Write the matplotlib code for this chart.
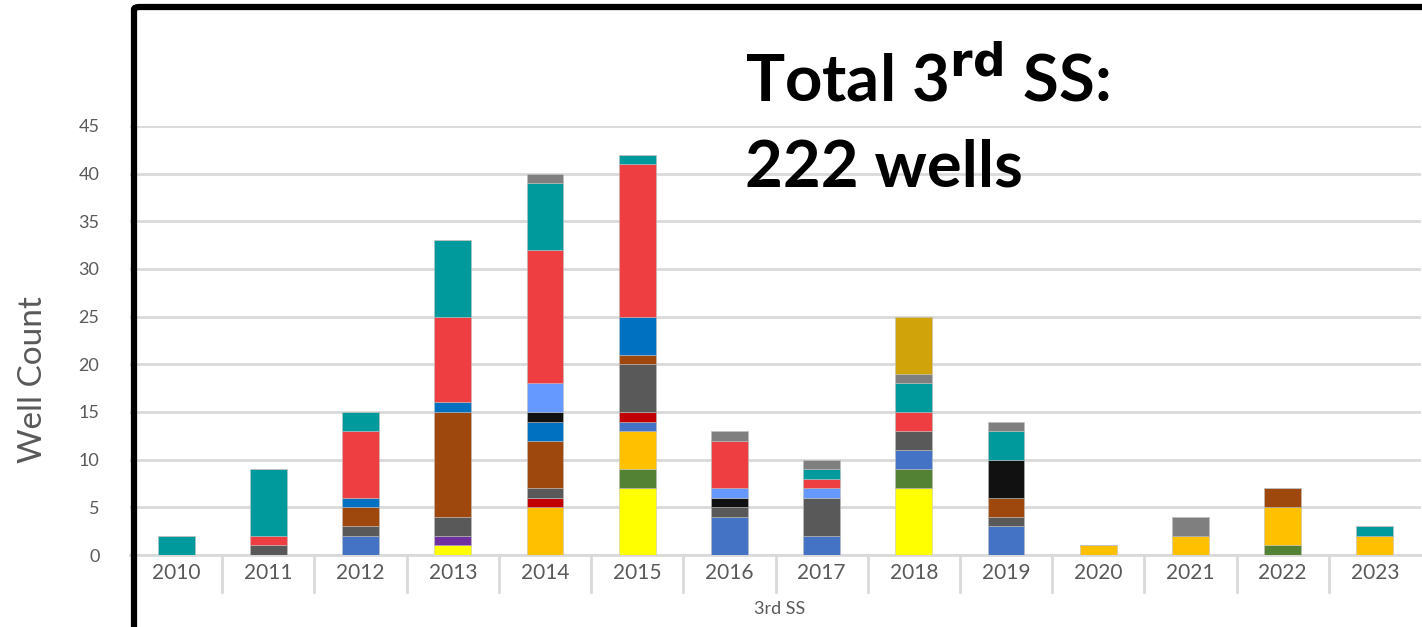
import matplotlib
matplotlib.use("Agg")
import matplotlib.pyplot as plt
from matplotlib.patches import FancyBboxPatch
import numpy as np

plt.rcParams['font.family'] = ['Lato', 'DejaVu Sans']

years = ['2010', '2011', '2012', '2013', '2014', '2015', '2016',
         '2017', '2018', '2019', '2020', '2021', '2022', '2023']

# well counts per group, stacked bottom to top in this order
yellow     = [0, 0, 0, 1, 0, 7, 0, 0, 7, 0, 0, 0, 0, 0]
green      = [0, 0, 0, 0, 0, 2, 0, 0, 2, 0, 0, 0, 1, 0]
orange     = [0, 0, 0, 0, 5, 4, 0, 0, 0, 0, 1, 2, 4, 2]
blue       = [0, 0, 2, 0, 0, 1, 4, 2, 2, 3, 0, 0, 0, 0]
purple     = [0, 0, 0, 1, 0, 0, 0, 0, 0, 0, 0, 0, 0, 0]
dark_red   = [0, 0, 0, 0, 1, 1, 0, 0, 0, 0, 0, 0, 0, 0]
dark_gray  = [0, 1, 1, 2, 1, 5, 1, 4, 2, 1, 0, 0, 0, 0]
brown      = [0, 0, 2, 11, 5, 1, 0, 0, 0, 2, 0, 0, 2, 0]
mid_blue   = [0, 0, 1, 1, 2, 4, 0, 0, 0, 0, 0, 0, 0, 0]
black      = [0, 0, 0, 0, 1, 0, 1, 0, 0, 4, 0, 0, 0, 0]
light_blue = [0, 0, 0, 0, 3, 0, 1, 1, 0, 0, 0, 0, 0, 0]
red        = [0, 1, 7, 9, 14, 16, 5, 1, 2, 0, 0, 0, 0, 0]
teal       = [2, 7, 2, 8, 7, 1, 0, 1, 3, 3, 0, 0, 0, 1]
gray       = [0, 0, 0, 0, 1, 0, 1, 1, 1, 1, 0, 2, 0, 0]
gold       = [0, 0, 0, 0, 0, 0, 0, 0, 6, 0, 0, 0, 0, 0]

series = [
    (yellow, '#FFFF00'), (green, '#548235'), (orange, '#FFC000'),
    (blue, '#4472C4'), (purple, '#7030A0'), (dark_red, '#C00000'),
    (dark_gray, '#595959'), (brown, '#9E480E'), (mid_blue, '#0070C0'),
    (black, '#111111'), (light_blue, '#6699FF'), (red, '#EF3E42'),
    (teal, '#009A9C'), (gray, '#7F7F7F'), (gold, '#D1A30B'),
]

W, H = 1422, 627
fig = plt.figure(figsize=(W / 100, H / 100), dpi=100)
ax = fig.add_axes([130 / W, (H - 555) / H, (1421 - 130) / W, (555 - 126) / H])

x = np.arange(len(years))
bottom = np.zeros(len(years))
for vals, col in series:
    v = np.array(vals, dtype=float)
    ax.bar(x, v, bottom=bottom, width=0.4, color=col,
           edgecolor=(0.75, 0.75, 0.75, 0.6), linewidth=0.6, zorder=3)
    bottom += v

ax.set_xlim(-0.5, len(years) - 0.5)
ax.set_ylim(0, 45)
ax.set_yticks(range(0, 50, 5))
ax.yaxis.grid(True, color='#D9D9D9', linewidth=2, zorder=0)
ax.set_axisbelow(True)
for s in ['top', 'right', 'left']:
    ax.spines[s].set_visible(False)
ax.spines['bottom'].set_color('#D9D9D9')
ax.spines['bottom'].set_linewidth(2)
ax.tick_params(axis='y', length=0, pad=22, labelsize=13, labelcolor='#595959')
ax.tick_params(axis='x', length=0, pad=6, labelsize=15, labelcolor='#595959')
ax.set_xticks(x)
ax.set_xticklabels(years)

# category separators below the axis
for b in np.arange(0.5, len(years) - 1, 1.0):
    ax.plot([b, b], [0, -3.9], color='#D9D9D9', linewidth=2,
            clip_on=False, zorder=1)

ax.set_xlabel('3rd SS', fontsize=13, color='#595959')
ax.xaxis.set_label_coords((780 - 130) / (1421 - 130), -(601 - 555) / (555 - 126))
ax.set_ylabel('Well Count', fontsize=24, color='#595959')
ax.yaxis.set_label_coords(-(130 - 48) / (1421 - 130), (555 - 380) / (555 - 126))

# heavy frame around the chart
frame = FancyBboxPatch((134 / W, -0.05), 1.2, (H - 7) / H + 0.05,
                       boxstyle='round,pad=0,rounding_size=0.004',
                       transform=fig.transFigure, fill=False,
                       edgecolor='black', linewidth=4.5, clip_on=False)
fig.patches.append(frame)

fig.text(745 / W, 1 - 80 / H, r'Total 3$^{\mathbf{rd}}$ SS:', fontsize=47,
         fontweight='bold', va='center', ha='left', color='black')
fig.text(745 / W, 1 - 168 / H, '222 wells', fontsize=47,
         fontweight='bold', va='center', ha='left', color='black')

fig.savefig('out.png', dpi=100)
